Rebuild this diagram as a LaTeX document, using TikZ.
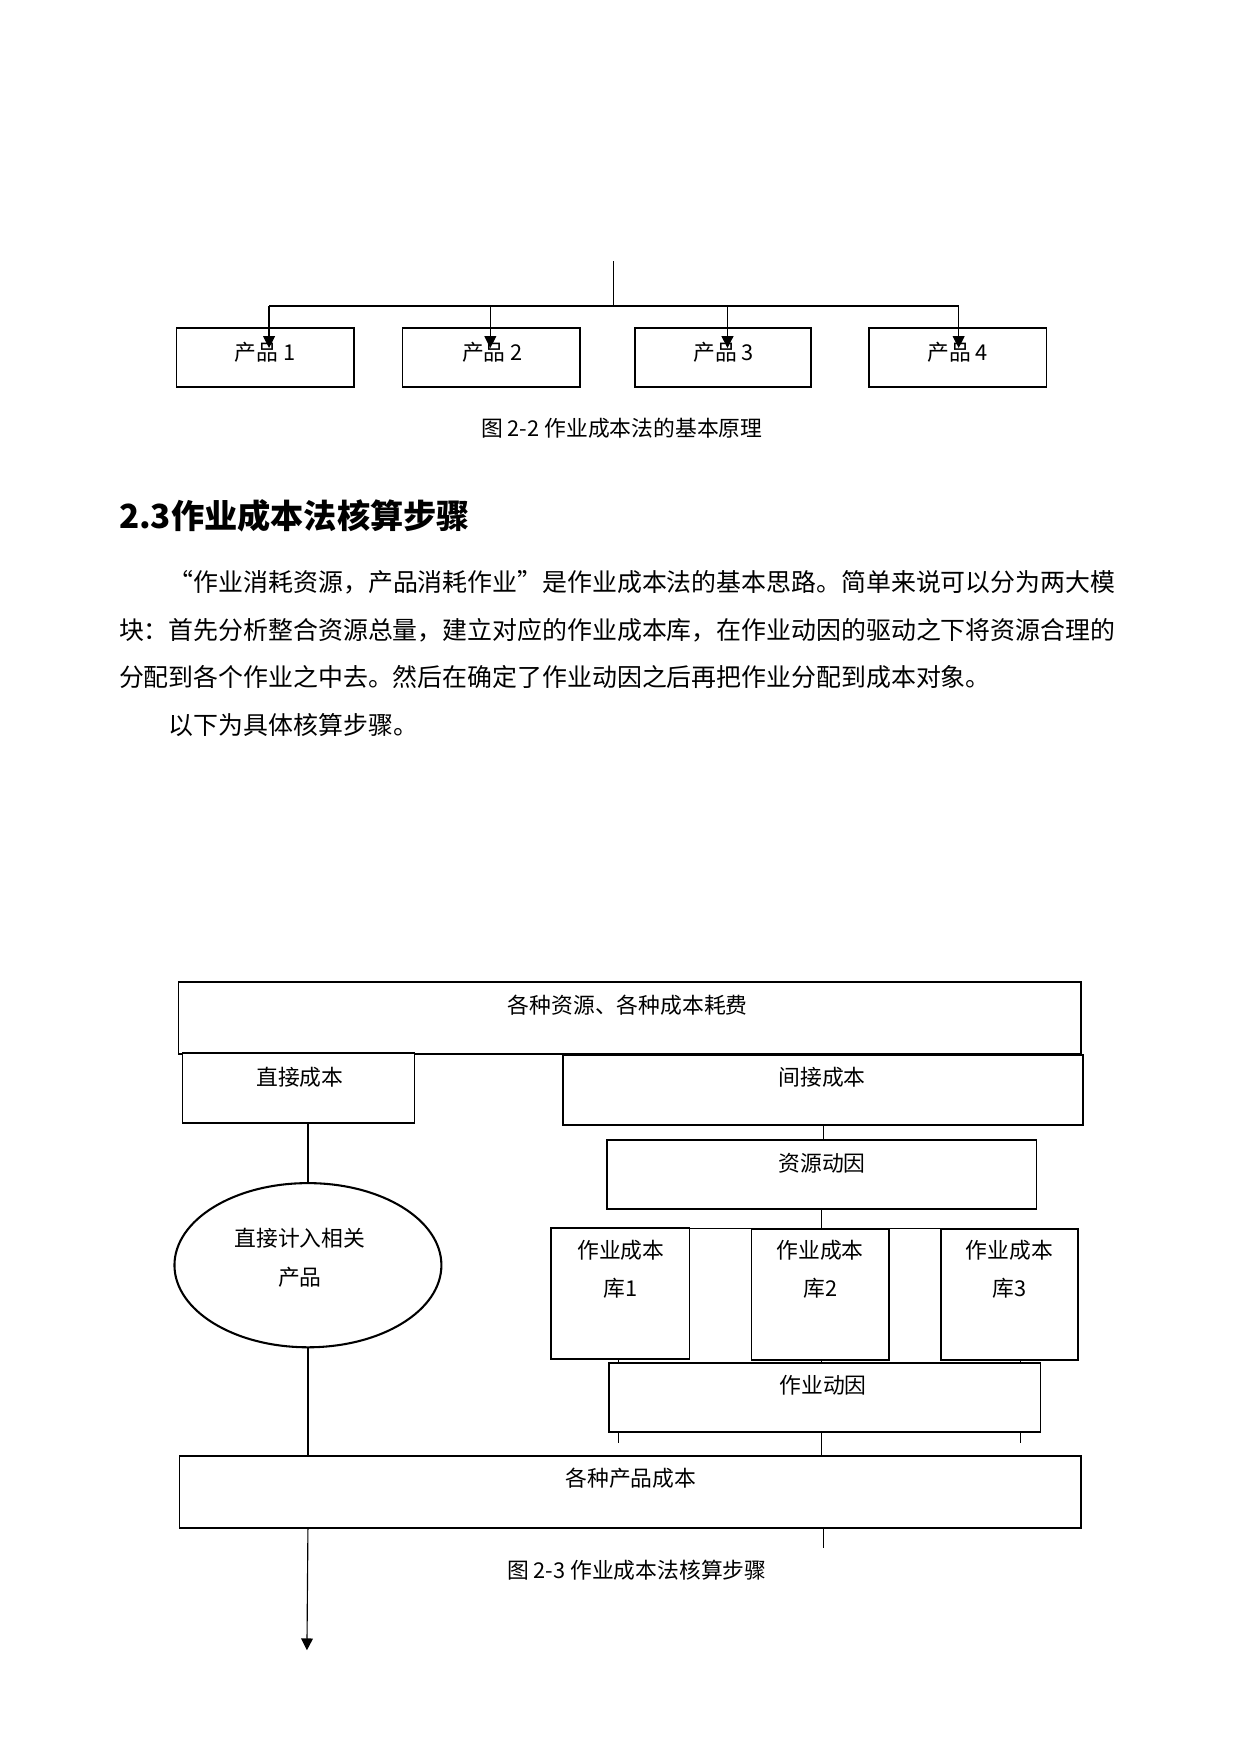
\documentclass[tikz,border=0pt]{standalone}
\usepackage{fontspec}
\setmainfont{Noto Sans CJK SC}
\usetikzlibrary{fit,arrows.meta,shapes.geometric}
\begin{document}
\begin{tikzpicture}[x=0.16875mm,y=-0.169355mm,
  box/.style={draw,line width=0.8pt,inner sep=0pt},
  conn/.style={line width=0.55pt},
  arr/.style={conn,-{Triangle[length=2mm,width=2mm]}},
  txt/.style={inner sep=0pt,font=\fontsize{10.5pt}{12pt}\selectfont},
  body/.style={inner sep=0pt,anchor=west,font=\fontsize{12pt}{14pt}\selectfont},
  head/.style={inner sep=0pt,anchor=west,font=\fontsize{16pt}{18pt}\selectfont\bfseries}]
\useasboundingbox (0mm,0mm) rectangle (210mm,-297mm);
% ---------- Figure 2-2 ----------
\node[box,fit={(177,328) (355,387)}] (p1) {};
\node[box,fit={(404,328) (582,387)}] (p2) {};
\node[box,fit={(637,328) (814,387)}] (p3) {};
\node[box,fit={(872,328) (1050,387)}] (p4) {};
\node[txt] (tp1) at (266,352) {产品 1};
\node[txt] (tp2) at (494,352) {产品 2};
\node[txt] (tp3) at (726,352) {产品 3};
\node[txt] (tp4) at (961,352) {产品 4};
\coordinate (top) at (616,261);
\coordinate (hm) at (616,306);
\coordinate (h1) at (270,306);
\coordinate (h2) at (492,306);
\coordinate (h3) at (730,306);
\coordinate (h4) at (962,306);
\coordinate (a1) at (270,348);
\coordinate (a2) at (492,348);
\coordinate (a3) at (730,348);
\coordinate (a4) at (962,348);
\draw[conn] (top) -- (hm);
\draw[conn] (h1) -- (h4);
\draw[arr] (h1) -- (a1);
\draw[arr] (h2) -- (a2);
\draw[arr] (h3) -- (a3);
\draw[arr] (h4) -- (a4);
\node[txt] (cap1) at (624,428) {图 2-2 作业成本法的基本原理};
% ---------- Text ----------
\node[head] (hd) at (119,516) {2.3作业成本法核算步骤};
\node[body] (l1) at (169,582) {“作业消耗资源，产品消耗作业”是作业成本法的基本思路。简单来说可以分为两大模};
\node[body] (l2) at (119,630) {块：首先分析整合资源总量，建立对应的作业成本库，在作业动因的驱动之下将资源合理的};
\node[body] (l3) at (119,677) {分配到各个作业之中去。然后在确定了作业动因之后再把作业分配到成本对象。};
\node[body] (l4) at (169,725) {以下为具体核算步骤。};
% ---------- Figure 2-3 ----------
\coordinate (bl) at (621,1228);
\coordinate (br) at (1024,1228);
\draw[conn] (bl) -- (br);
\node[box,fill=white,fit={(179,982) (1085,1054)}] (T) {};
\node[box,fill=white,fit={(183,1053) (416,1123)}] (D) {};
\node[box,fill=white,fit={(565,1055) (1087,1125)}] (I) {};
\node[box,fit={(609,1140) (1040,1209)}] (R) {};
\node[box,line width=1pt,ellipse,minimum width=45.2mm,minimum height=27.8mm] (E) at (309,1265) {};
\node[box,fill=white,fit={(553,1228) (692,1359)}] (K1) {};
\node[box,fill=white,fit={(754,1229) (892,1360)}] (K2) {};
\node[box,fill=white,fit={(944,1229) (1082,1360)}] (K3) {};
\node[box,fit={(611,1363) (1044,1432)}] (A) {};
\node[box,fit={(180,1456) (1085,1528)}] (P) {};
\node[txt] (tT) at (630,1005) {各种资源、各种成本耗费};
\node[txt] (tD) at (301,1077) {直接成本};
\node[txt] (tI) at (825,1077) {间接成本};
\node[txt] (tR) at (825,1163) {资源动因};
\node[txt] (tE1) at (301,1238) {直接计入相关};
\node[txt] (tE2) at (301,1277) {产品};
\node[txt] (tK1a) at (623,1250) {作业成本};
\node[txt] (tK1b) at (623,1288) {库1};
\node[txt] (tK2a) at (823,1250) {作业成本};
\node[txt] (tK2b) at (823,1288) {库2};
\node[txt] (tK3a) at (1013,1250) {作业成本};
\node[txt] (tK3b) at (1013,1288) {库3};
\node[txt] (tA) at (826,1385) {作业动因};
\node[txt] (tP) at (633,1478) {各种产品成本};
\node[txt] (cap2) at (639,1570) {图 2-3 作业成本法核算步骤};
% connectors
\draw[conn] (E.north) -- (E.north |- D.south);
\draw[conn] (E.south) -- (E.south |- P.north);
\draw[conn] (I.south) -- (I.south |- R.north);
\draw[conn] (R.south) -- (R.south |- bl);
\draw[conn] (K1.south -| bl) -- (A.north -| bl);
\draw[conn] (K2.south -| R.south) -- (A.north -| R.south);
\draw[conn] (K3.south -| br) -- (A.north -| br);
\coordinate (tl) at (621,1443);
\coordinate (tr) at (1024,1443);
\draw[conn] (A.south -| bl) -- (tl);
\draw[conn] (A.south -| br) -- (tr);
\draw[conn] (A.south -| R.south) -- (P.north -| R.south);
\coordinate (pe) at (826,1548);
\draw[conn] (P.south -| pe) -- (pe);
\coordinate (ae) at (308,1650);
\draw[arr] (P.south -| E.south) -- (ae);
\end{tikzpicture}
\end{document}
